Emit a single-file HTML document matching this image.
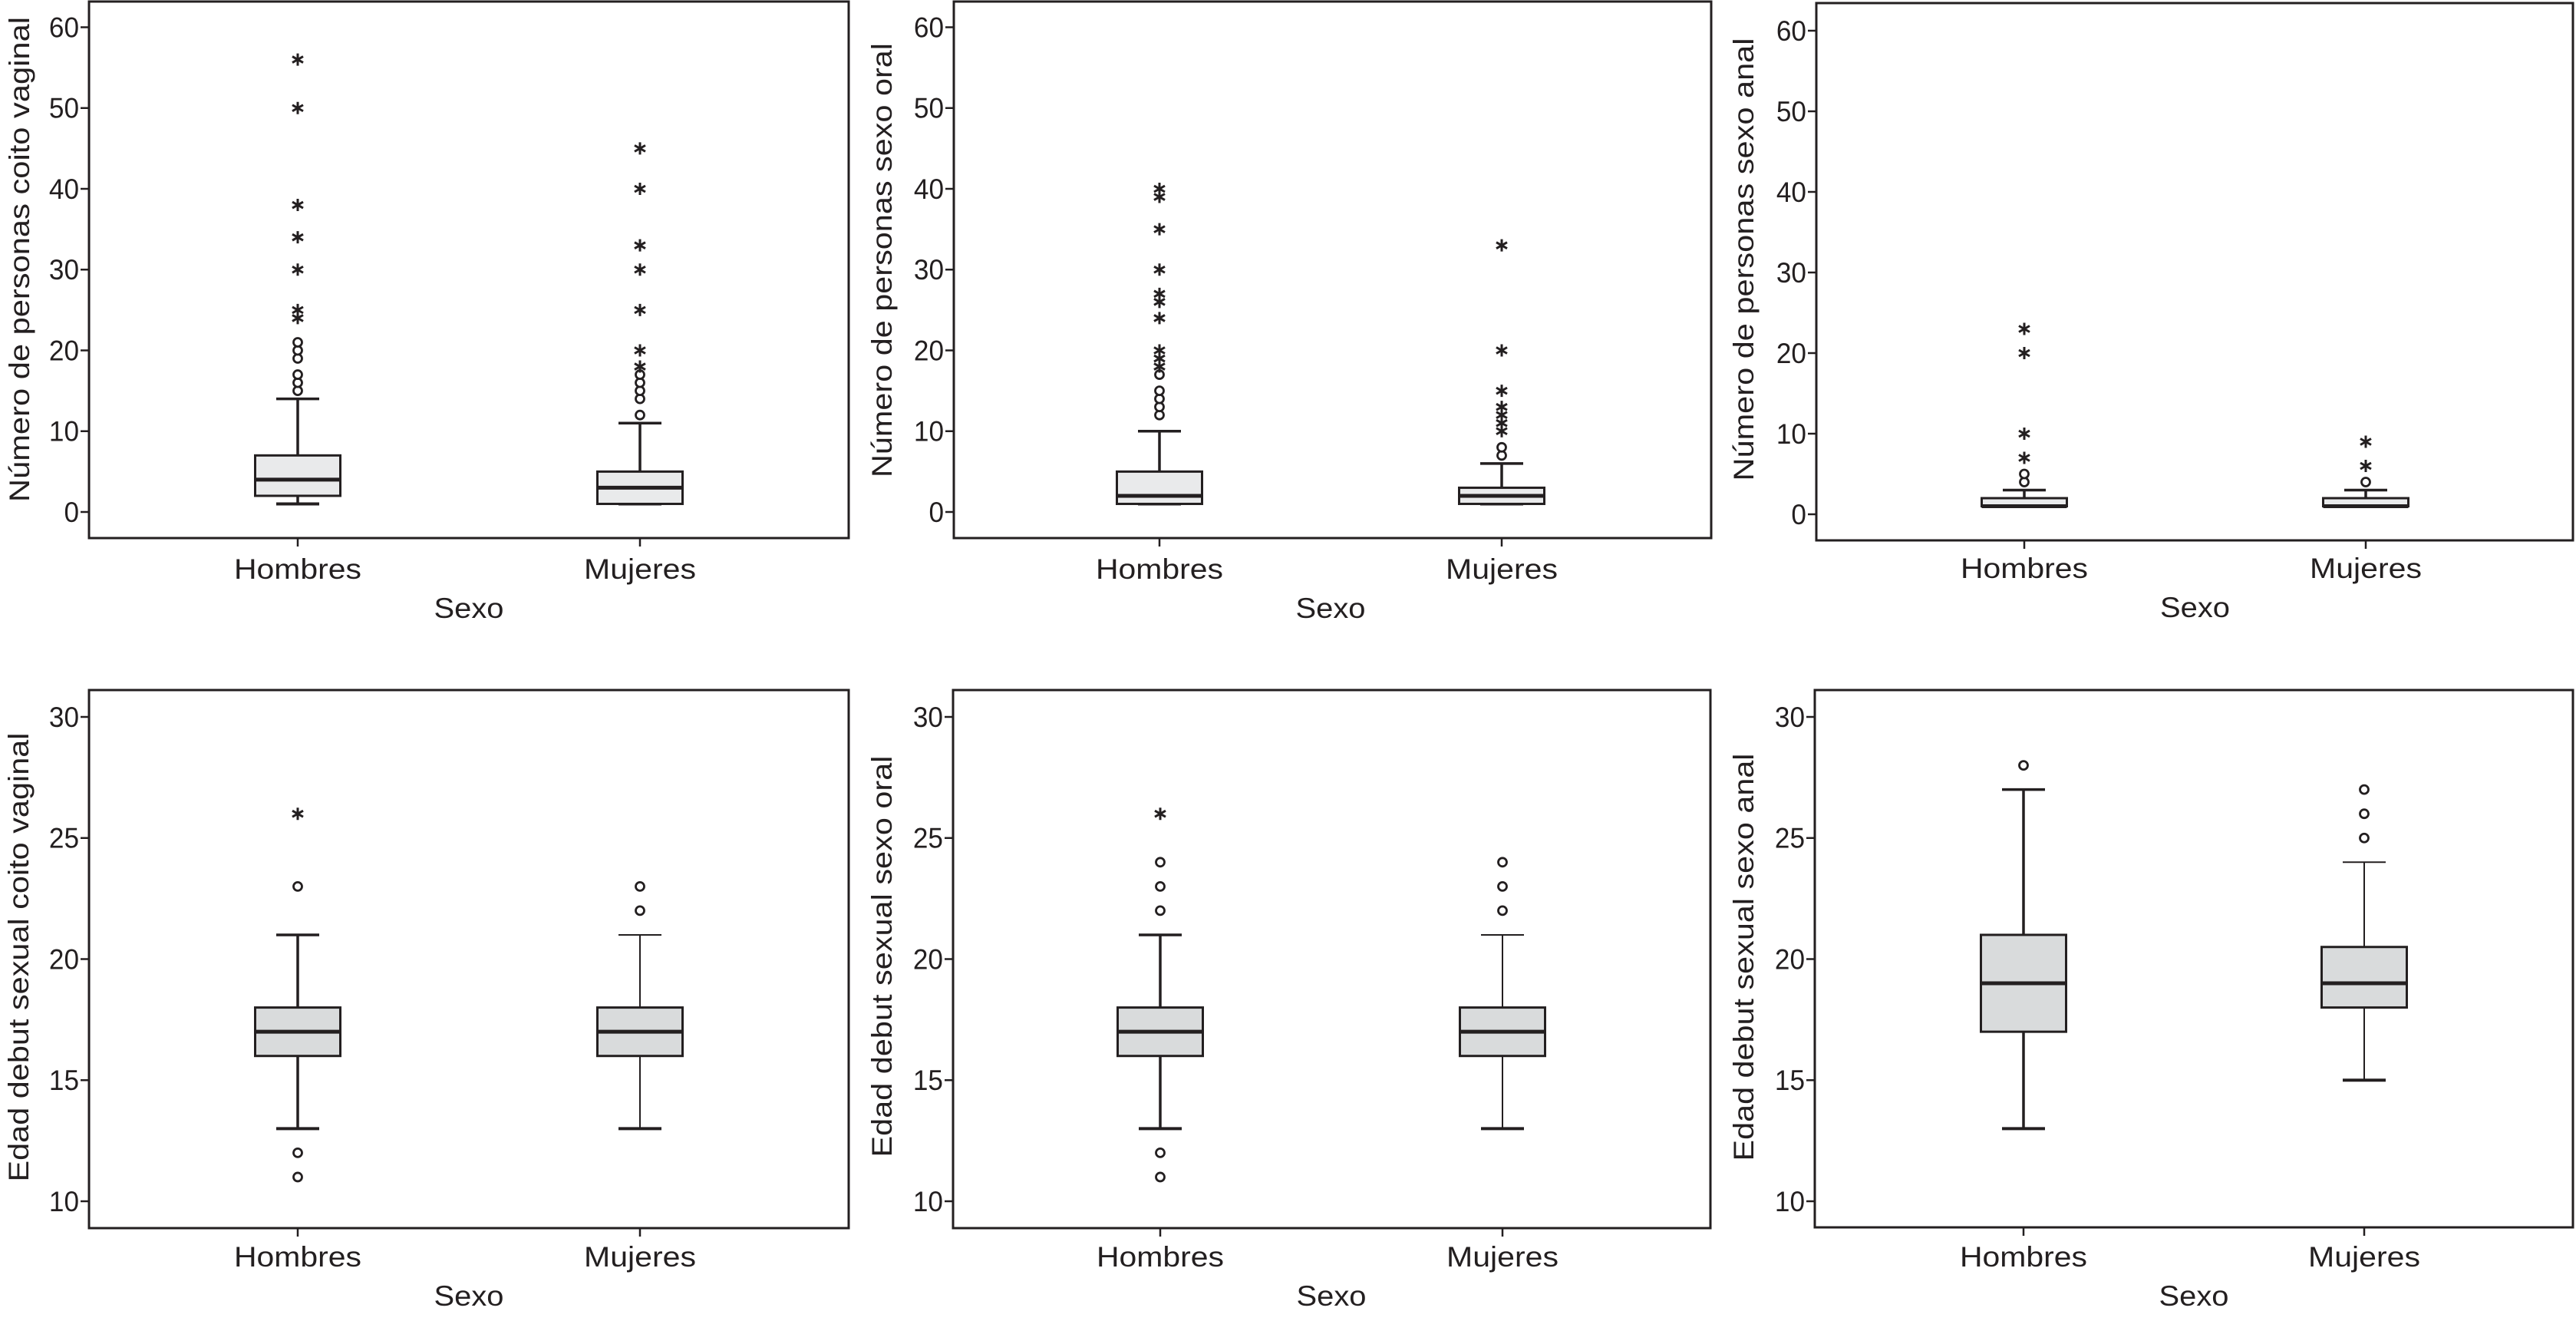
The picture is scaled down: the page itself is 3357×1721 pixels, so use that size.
<!DOCTYPE html>
<html><head><meta charset="utf-8"><style>
html,body{margin:0;padding:0;background:#fff;}
svg{display:block;}
text{font-family:"Liberation Sans",sans-serif;fill:#231f20;}
</style></head><body>
<svg id="chart" width="3357" height="1721" viewBox="0 0 3357 1721" xmlns="http://www.w3.org/2000/svg"></svg>
<script>
// ---- data ----
const categories = ["Hombres", "Mujeres"];
const yTitles = ["Número de personas coito vaginal","Número de personas sexo oral","Número de personas sexo anal",
  "Edad debut sexual coito vaginal","Edad debut sexual sexo oral","Edad debut sexual sexo anal"];
const topTicks = [0,10,20,30,40,50,60];
const bottomTicks = [10,15,20,25,30];
// [min, q1, median, q3, max] per category
const vaginalCountStats = [[1,2,4,7,14],[1,1,3,5,11]];
const vaginalCountCircles = [[15,16,17,19,20,21],[12,14,15,16,17]];
const vaginalCountStars = [[24,25,30,34,38,50,56],[18,20,25,30,33,40,45]];
const oralCountStats = [[1,1,2,5,10],[1,1,2,3,6]];
const oralCountCircles = [[12,13,14,15,17],[7,8]];
const oralCountStars = [[18,19,20,24,26,27,30,35,39,40],[10,11,12,13,15,20,33]];
const analCountStats = [[1,1,1,2,3],[1,1,1,2,3]];
const analCountCircles = [[4,5],[4]];
const analCountStars = [[7,10,20,23],[6,9]];
const vaginalAgeStats = [[13,16,17,18,21],[13,16,17,18,21]];
const vaginalAgeCircles = [[11,12,23],[22,23]];
const vaginalAgeStars = [[26],[]];
const oralAgeStats = [[13,16,17,18,21],[13,16,17,18,21]];
const oralAgeCircles = [[11,12,22,23,24],[22,23,24]];
const oralAgeStars = [[26],[]];
const analAgeStats = [[13,17,19,21,27],[15,18,19,20.5,24]];
const analAgeCircles = [[28],[25,26,27]];
const analAgeStars = [[],[]];

const NS = "http://www.w3.org/2000/svg";
const svg = document.getElementById('chart');
function mk(tag, attrs, parent){ const e=document.createElementNS(NS,tag); for(const k in attrs) e.setAttribute(k,attrs[k]); (parent||svg).appendChild(e); return e; }

const panels = [
 {x0:116,x1:1106,y0:2,y1:701,v0:0,p0:667,v1:60,p1:35.5,ticks:topTicks,cx:[388,834],stats:vaginalCountStats,circ:vaginalCountCircles,star:vaginalCountStars,fill:"#e9eaeb",tx:38,tyc:338,tl:632,lab:754,sexo:805,thin:[false,false]},
 {x0:1243,x1:2230,y0:2,y1:701,v0:0,p0:667,v1:60,p1:35.5,ticks:topTicks,cx:[1511,1957],stats:oralCountStats,circ:oralCountCircles,star:oralCountStars,fill:"#e9eaeb",tx:1162,tyc:339,tl:566,lab:754,sexo:805,thin:[false,false]},
 {x0:2367,x1:3353,y0:4,y1:704,v0:0,p0:670,v1:60,p1:40,ticks:topTicks,cx:[2638,3083],stats:analCountStats,circ:analCountCircles,star:analCountStars,fill:"#e9eaeb",tx:2285,tyc:338,tl:577,lab:753,sexo:804,thin:[false,false]},
 {x0:116,x1:1106,y0:899,y1:1600,v0:10,p0:1565,v1:30,p1:934,ticks:bottomTicks,cx:[388,834],stats:vaginalAgeStats,circ:vaginalAgeCircles,star:vaginalAgeStars,fill:"#d9dbdc",tx:37,tyc:1247,tl:585,lab:1650,sexo:1701,thin:[false,true]},
 {x0:1242,x1:2229,y0:899,y1:1600,v0:10,p0:1565,v1:30,p1:934,ticks:bottomTicks,cx:[1512,1958],stats:oralAgeStats,circ:oralAgeCircles,star:oralAgeStars,fill:"#d9dbdc",tx:1162,tyc:1246,tl:523,lab:1650,sexo:1701,thin:[false,true]},
 {x0:2365,x1:3353,y0:899,y1:1599,v0:10,p0:1565,v1:30,p1:934,ticks:bottomTicks,cx:[2637,3081],stats:analAgeStats,circ:analAgeCircles,star:analAgeStars,fill:"#d9dbdc",tx:2285,tyc:1247,tl:531,lab:1650,sexo:1701,thin:[false,true]}
];
const ink="#231f20";
panels.forEach((P,pi)=>{
  const g=mk('g',{});
  
  
  const y=v=>P.p0+(v-P.v0)*(P.p1-P.p0)/(P.v1-P.v0);
  const fr=mk('rect',{x:P.x0,y:P.y0,width:P.x1-P.x0,height:P.y1-P.y0,fill:'none',stroke:ink,'stroke-width':3},g);
   
  P.ticks.forEach(t=>{
    const ty=y(t);
    const tk=mk('line',{x1:P.x0-11,x2:P.x0,y1:ty,y2:ty,stroke:ink,'stroke-width':2.5},g);
     
    const tt=mk('text',{x:P.x0-13,y:ty+13,'text-anchor':'end','font-size':37,transform:'translate('+(P.x0-13)+' 0) scale(0.95 1) translate('+(-(P.x0-13))+' 0)'},g);
    tt.textContent=t;
     
  });
  const yt=mk('text',{x:0,y:0,'text-anchor':'middle','font-size':37,textLength:P.tl,lengthAdjust:'spacingAndGlyphs',transform:'translate('+P.tx+' '+P.tyc+') rotate(-90)'},g);
  yt.textContent=yTitles[pi];
   
  const midx=(P.cx[0]+P.cx[1])/2;
  const xt=mk('text',{x:midx,y:P.sexo,'text-anchor':'middle','font-size':37,textLength:91,lengthAdjust:'spacingAndGlyphs'},g);
  xt.textContent='Sexo';
   
  categories.forEach((c,ci)=>{
    const cx=P.cx[ci]; const s=P.stats[ci];
    const xtk=mk('line',{x1:cx,x2:cx,y1:P.y1,y2:P.y1+11,stroke:ink,'stroke-width':2.5},g);
     
    const lb=mk('text',{x:cx,y:P.lab,'text-anchor':'middle','font-size':37,textLength:ci==0?166:146,lengthAdjust:'spacingAndGlyphs'},g);
    lb.textContent=c;
     
    const sw=P.thin[ci]?2:3.5;
    const bw=111, cw=56;
    const box=mk('g',{},g);
     
    mk('line',{x1:cx,x2:cx,y1:y(s[0]),y2:y(s[1]),stroke:ink,'stroke-width':sw},box);
    mk('line',{x1:cx,x2:cx,y1:y(s[3]),y2:y(s[4]),stroke:ink,'stroke-width':sw},box);
    mk('line',{x1:cx-cw/2,x2:cx+cw/2,y1:y(s[0]),y2:y(s[0]),stroke:ink,'stroke-width':4},box);
    mk('line',{x1:cx-cw/2,x2:cx+cw/2,y1:y(s[4]),y2:y(s[4]),stroke:ink,'stroke-width':P.thin[ci]?2:3.5},box);
    mk('rect',{x:cx-bw/2,y:y(s[3]),width:bw,height:Math.max(y(s[1])-y(s[3]),1),fill:P.fill,stroke:ink,'stroke-width':3},box);
    mk('line',{x1:cx-bw/2,x2:cx+bw/2,y1:y(s[2]),y2:y(s[2]),stroke:ink,'stroke-width':5},box);
    P.circ[ci].forEach(v=>{
      const o=mk('circle',{cx:cx,cy:y(v),r:5.5,fill:'#fff',stroke:ink,'stroke-width':2.8},g);
       
    });
    P.star[ci].forEach(v=>{
      const sy=y(v);
      const st=mk('path',{d:'M'+cx+' '+(sy-8)+'V'+(sy+8)+'M'+(cx-7)+' '+(sy-4)+'L'+(cx+7)+' '+(sy+4)+'M'+(cx-7)+' '+(sy+4)+'L'+(cx+7)+' '+(sy-4),stroke:ink,'stroke-width':3,fill:'none'},g);
       
    });
  });
});
</script>
</body></html>
